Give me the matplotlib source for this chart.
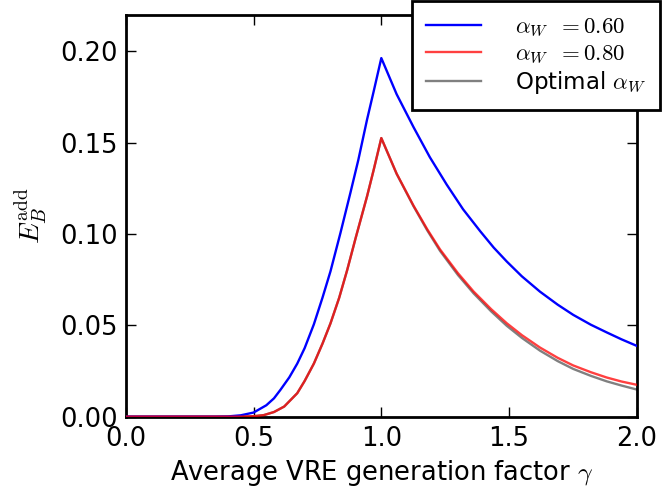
import matplotlib
matplotlib.use("Agg")
import matplotlib.pyplot as plt

plt.rcParams['mathtext.fontset'] = 'cm'
plt.rcParams['font.family'] = ['DejaVu Sans']

# alpha_W = 0.60
gamma_a60 = [0.0, 0.35, 0.40, 0.45, 0.50, 0.55, 0.58, 0.605, 0.64, 0.671, 0.70, 0.736, 0.77,
             0.801, 0.84, 0.879, 0.91, 0.944, 0.97, 1.0,
             1.06, 1.126, 1.19, 1.256, 1.32, 1.387, 1.44, 1.491, 1.55, 1.621, 1.69, 1.751,
             1.82, 1.882, 1.94, 2.0]
eb_a60 = [0.0, 0.0, 0.0001, 0.0007, 0.0022, 0.0062, 0.0100, 0.0146, 0.0215, 0.0290, 0.0375,
          0.0505, 0.0652, 0.0795, 0.1005, 0.1225, 0.1405, 0.1625, 0.178, 0.1963,
          0.1765, 0.1585, 0.142, 0.127, 0.1135, 0.1015, 0.0925, 0.0849, 0.0768, 0.0684,
          0.0613, 0.0557, 0.0503, 0.0461, 0.0423, 0.0387]

# alpha_W = 0.80
gamma_a80 = [0.0, 0.45, 0.50, 0.54, 0.58, 0.62, 0.671, 0.70, 0.736, 0.77, 0.801, 0.835,
             0.866, 0.90, 0.944, 0.97, 1.0,
             1.06, 1.126, 1.18, 1.23, 1.30, 1.361, 1.43, 1.491, 1.55, 1.621, 1.69, 1.751,
             1.82, 1.882, 1.94, 2.0]
eb_a80 = [0.0, 0.0, 0.0002, 0.0008, 0.0025, 0.0055, 0.0128, 0.0195, 0.029, 0.040, 0.051,
          0.065, 0.080, 0.098, 0.1205, 0.135, 0.1525,
          0.133, 0.1155, 0.1025, 0.0915, 0.0785, 0.0685, 0.0588, 0.0511, 0.0446, 0.0378,
          0.0322, 0.0280, 0.0243, 0.0214, 0.0192, 0.0174]

# optimal alpha_W
gamma_opt = [0.0, 0.45, 0.50, 0.54, 0.58, 0.62, 0.671, 0.70, 0.736, 0.77, 0.801, 0.835,
             0.866, 0.90, 0.944, 0.97, 1.0,
             1.06, 1.126, 1.18, 1.23, 1.30, 1.361, 1.43, 1.491, 1.55, 1.621, 1.69, 1.751,
             1.82, 1.882, 1.94, 2.0]
eb_opt = [0.0, 0.0, 0.0002, 0.0008, 0.0025, 0.0055, 0.0128, 0.0195, 0.029, 0.040, 0.051,
          0.065, 0.080, 0.098, 0.1205, 0.135, 0.1525,
          0.1329, 0.1152, 0.1019, 0.0907, 0.0775, 0.0675, 0.0576, 0.0497, 0.0431, 0.0361,
          0.0304, 0.0261, 0.0223, 0.0193, 0.0170, 0.0148]

labels = [r'$\alpha_W\;\;{=}0.60$', r'$\alpha_W\;\;{=}0.80$', r'Optimal $\alpha_W$']
xticks = [0.0, 0.5, 1.0, 1.5, 2.0]
yticks = [0.00, 0.05, 0.10, 0.15, 0.20]

fig = plt.figure(figsize=(6.62, 4.93), dpi=100)
ax = fig.add_axes([0.190, 0.155, 0.772, 0.815])

l1, = ax.plot(gamma_a60, eb_a60, color='#0000ff', lw=1.7, label=labels[0], zorder=3)
l3, = ax.plot(gamma_opt, eb_opt, color='#808080', lw=1.7, label=labels[2], zorder=2)
l2, = ax.plot(gamma_a80, eb_a80, color='#ff0000', alpha=0.75, lw=1.7, label=labels[1], zorder=3)

ax.set_xlim(0, 2)
ax.set_ylim(0, 0.22)
ax.set_xticks(xticks)
ax.set_xticklabels(['%.1f' % v for v in xticks])
ax.set_yticks(yticks)
ax.set_yticklabels(['%.2f' % v for v in yticks])
ax.tick_params(direction='in', length=7, width=1, labelsize=18.5, top=True, right=True)
ax.tick_params(axis='y', pad=6)
ax.tick_params(axis='x', pad=7)
for s in ax.spines.values():
    s.set_linewidth(2)

ax.set_xlabel(r'Average VRE generation factor $\gamma$', fontsize=18.5, labelpad=4)
ax.set_ylabel(r'$E_B^{\rm add}$', fontsize=20, labelpad=8)

leg = fig.legend(handles=[l1, l2, l3], labels=labels, loc='upper right',
                 bbox_to_anchor=(660/662, 1 - 1.0/493), bbox_transform=fig.transFigure,
                 fontsize=16.5, frameon=True, fancybox=False, handlelength=2.4,
                 handletextpad=1.5, labelspacing=0.15, borderpad=0.6, borderaxespad=0)
leg.get_frame().set_edgecolor('black')
leg.get_frame().set_linewidth(2)
leg.get_frame().set_alpha(1)

fig.savefig('out.png', dpi=100)
